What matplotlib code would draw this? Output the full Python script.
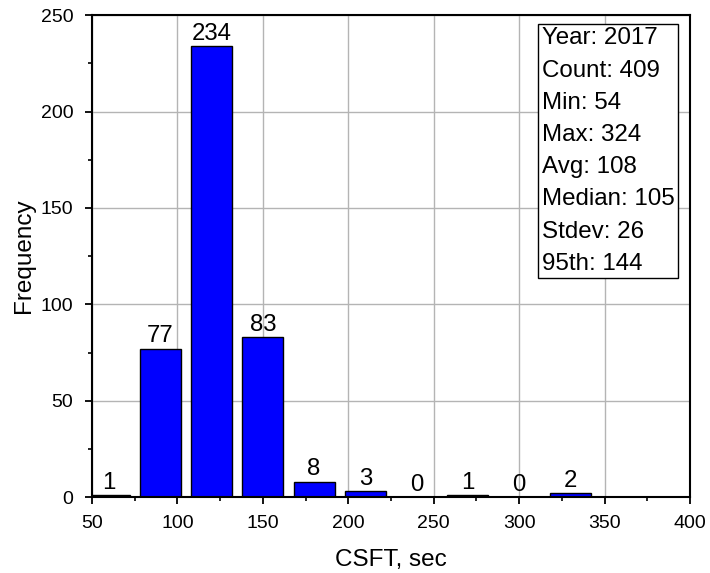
import matplotlib
matplotlib.use("Agg")
import matplotlib.pyplot as plt
from matplotlib.ticker import MultipleLocator

plt.rcParams["font.family"] = ["Liberation Sans", "DejaVu Sans"]

# histogram of CSFT, 30 s bins
bin_centers = [60, 90, 120, 150, 180, 210, 240, 270, 300, 330]
counts = [1, 77, 234, 83, 8, 3, 0, 1, 0, 2]

stats_labels = ["Year", "Count", "Min", "Max", "Avg", "Median", "Stdev", "95th"]
stats_values = [2017, 409, 54, 324, 108, 105, 26, 144]

fig = plt.figure(figsize=(7.1, 5.73), dpi=100)
ax = fig.add_axes([0.1296, 0.1326, 0.8422, 0.8407])

bars = ax.bar(bin_centers, counts, width=24, color="#0000ff",
              edgecolor="black", linewidth=1.0, zorder=3)
ax.bar_label(bars, labels=[str(c) for c in counts], padding=1, fontsize=17.3)

ax.set_xlim(50, 400)
ax.set_ylim(0, 250)
ax.xaxis.set_major_locator(MultipleLocator(50))
ax.xaxis.set_minor_locator(MultipleLocator(25))
ax.yaxis.set_major_locator(MultipleLocator(50))
ax.yaxis.set_minor_locator(MultipleLocator(25))
ax.tick_params(which="major", direction="out", length=5, width=1.3, labelsize=14)
ax.tick_params(which="minor", direction="out", length=3, width=1.2)
ax.tick_params(axis="x", which="major", pad=8)
ax.tick_params(axis="y", which="major", pad=8.5)
ax.grid(True, which="major", color="#b4b4b4", linewidth=1.0, zorder=0)
ax.set_axisbelow(True)
for sp in ax.spines.values():
    sp.set_linewidth(1.5)
    sp.set_zorder(5)

ax.set_xlabel("CSFT, sec", fontsize=17.5, labelpad=12)
ax.set_ylabel("Frequency", fontsize=17.5, labelpad=4)

stats_text = "\n".join(f"{k}: {v}" for k, v in zip(stats_labels, stats_values))
ax.text(0.7525, 0.975, stats_text, transform=ax.transAxes, ha="left", va="top",
        fontsize=17.4, linespacing=1.6, zorder=6,
        bbox=dict(boxstyle="square,pad=0.15", fc="white", ec="black", lw=1.0))

fig.savefig("out.png", dpi=100)
